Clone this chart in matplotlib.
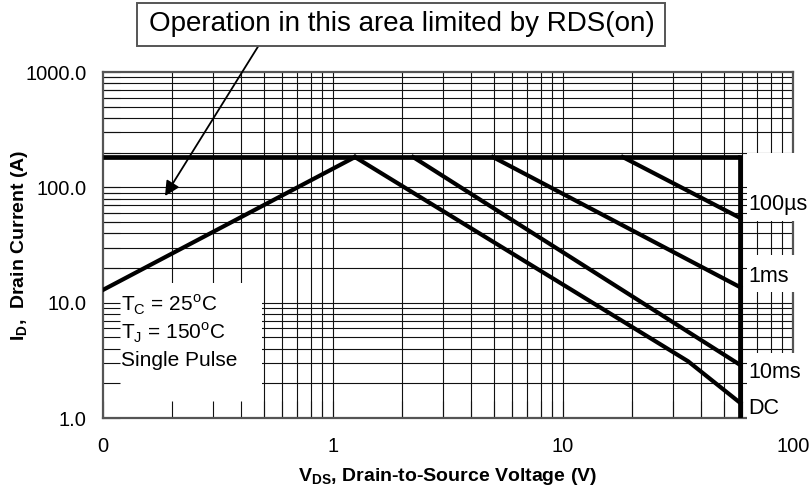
import matplotlib
matplotlib.use("Agg")
import matplotlib.pyplot as plt
from matplotlib.patches import Rectangle

# ---------------- data ----------------
i_max = 183.0          # current limit (A)
v_max = 59.0           # max VDS (V)

rds_v = [0.1, 1.246]
rds_i = [12.9, 183.0]

us100_v = [18.2, 59.0]
us100_i = [183.0, 54.2]

ms1_v = [4.96, 59.0]
ms1_i = [183.0, 13.6]

ms10_v = [2.23, 59.0]
ms10_i = [183.0, 2.88]

dc_v = [1.246, 35.0, 59.0]
dc_i = [183.0, 3.1, 1.35]

curve_labels = ["100\u00b5s", "1ms", "10ms", "DC"]
xtick_vals = [0.1, 1, 10, 100]
xtick_labels = ["0", "1", "10", "100"]
ytick_vals = [1, 10, 100, 1000]
ytick_labels = ["1.0", "10.0", "100.0", "1000.0"]

# ---------------- style ----------------
FAM = ["Liberation Sans", "DejaVu Sans"]
plt.rcParams["font.family"] = FAM
plt.rcParams["mathtext.fontset"] = "custom"
plt.rcParams["mathtext.rm"] = "Liberation Sans"
plt.rcParams["mathtext.bf"] = "Liberation Sans:bold"

W, H = 811, 497
fig = plt.figure(figsize=(W / 100, H / 100), dpi=100)
L, R, T, B = 103, 793, 72, 418
ax = fig.add_axes([L / W, (H - B) / H, (R - L) / W, (B - T) / H])
ax.set_xscale("log")
ax.set_yscale("log")
ax.set_xlim(0.1, 100)
ax.set_ylim(1, 1000)

def axfx(px):
    return (px - L) / (R - L)

def axfy(py):
    return (B - py) / (B - T)

# manual grid (so white boxes can hide it but not the ticks)
grid_kw = dict(color="#111111", lw=0.8, zorder=1)
for e in range(-1, 2):
    for k in range(1, 10):
        v = k * 10.0 ** e
        if 0.1 < v < 100:
            ax.axvline(v, **grid_kw)
for e in range(0, 3):
    for k in range(1, 10):
        v = k * 10.0 ** e
        if 1 < v < 1000:
            ax.axhline(v, **grid_kw)

# white box behind the conditions text (lower-left)
ax.add_patch(Rectangle((axfx(104), 0.0), axfx(262) - axfx(104), axfy(283),
                       transform=ax.transAxes, facecolor="white",
                       edgecolor="none", zorder=1.5))

# white boxes behind curve labels at right (cover spines too)
for ytop, ybot in [(153, 221), (255, 292), (353, 421)]:
    ax.add_patch(Rectangle((axfx(747), axfy(ybot)), axfx(805) - axfx(747),
                           axfy(ytop) - axfy(ybot), transform=ax.transAxes,
                           facecolor="white", edgecolor="none", zorder=3,
                           clip_on=False))

# curves
lw = 3.0
ax.plot([0.1, v_max], [i_max, i_max], color="black", lw=3.4, zorder=4,
        solid_capstyle="butt")
ax.plot([v_max, v_max], [1, i_max], color="black", lw=3.4, zorder=4,
        solid_capstyle="projecting")
for vs, iis in [(rds_v, rds_i), (us100_v, us100_i), (ms1_v, ms1_i),
                (ms10_v, ms10_i), (dc_v, dc_i)]:
    ax.plot(vs, iis, color="black", lw=lw, zorder=4, solid_joinstyle="miter")

# curve labels
for lab, py in zip(curve_labels, [204, 277, 373, 408]):
    ax.text(axfx(748), axfy(py), lab, transform=ax.transAxes, ha="left",
            va="center", fontsize=15.5, zorder=5, clip_on=False)

# conditions text
ax.text(axfx(121), axfy(305), r"T$_\mathregular{C}$ = 25$^\mathregular{o}$C",
        transform=ax.transAxes, ha="left", va="center", fontsize=15, zorder=5)
ax.text(axfx(121), axfy(333), r"T$_\mathregular{J}$ = 150$^\mathregular{o}$C",
        transform=ax.transAxes, ha="left", va="center", fontsize=15, zorder=5)
ax.text(axfx(121), axfy(361), "Single Pulse",
        transform=ax.transAxes, ha="left", va="center", fontsize=15, zorder=5)

# ticks and spines
ax.set_xticks(xtick_vals)
ax.set_xticklabels(xtick_labels)
ax.set_yticks(ytick_vals)
ax.set_yticklabels(ytick_labels)
ax.tick_params(axis="both", which="both", direction="in", length=12,
               width=0.8, color="#111111", labelsize=14.5)
ax.tick_params(axis="x", pad=14)
ax.tick_params(axis="y", pad=12)
for s in ax.spines.values():
    s.set_color("#555555")
    s.set_linewidth(1.6)

ax.set_xlabel(r"V$_\mathregular{DS}$, Drain-to-Source Voltage (V)",
              fontsize=14, fontweight="bold")
ax.xaxis.set_label_coords(0.5, axfy(466))
ax.set_ylabel(r"I$_\mathregular{D}$,  Drain Current (A)",
              fontsize=14, fontweight="bold")
ax.yaxis.set_label_coords(axfx(30), 0.5)

# top call-out box with arrow
fig.add_artist(Rectangle((137 / W, (H - 46) / H), (665 - 137) / W, 43 / H,
                         transform=fig.transFigure, facecolor="white",
                         edgecolor="#555555", lw=1.4))
fig.text(402 / W, (H - 24) / H, "Operation in this area limited by RDS(on)",
         ha="center", va="center", fontsize=20)
ax.annotate("", xy=(axfx(165), axfy(196)), xycoords="axes fraction",
            xytext=(259 / W, (H - 45) / H), textcoords="figure fraction",
            arrowprops=dict(arrowstyle="-|>", color="black", lw=1.3,
                            mutation_scale=22, shrinkA=0, shrinkB=0),
            annotation_clip=False, zorder=6)

fig.savefig("out.png", dpi=100)
